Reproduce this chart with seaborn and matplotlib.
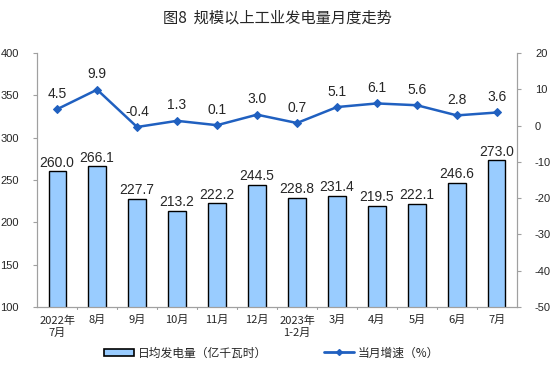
import seaborn as sns
import matplotlib.pyplot as plt
import pandas as pd
from matplotlib.patches import Patch
from matplotlib.lines import Line2D

# data
months = ["2022年\n7月", "8月", "9月", "10月", "11月", "12月", "2023年\n1-2月",
          "3月", "4月", "5月", "6月", "7月"]
daily_output = [260.0, 266.1, 227.7, 213.2, 222.2, 244.5, 228.8, 231.4, 219.5, 222.1, 246.6, 273.0]
growth = [4.5, 9.9, -0.4, 1.3, 0.1, 3.0, 0.7, 5.1, 6.1, 5.6, 2.8, 3.6]

df = pd.DataFrame({"month": months, "output": daily_output, "growth": growth, "pos": range(len(months))})

sns.set_style("white")
plt.rcParams['font.family'] = ['Noto Sans CJK SC', 'DejaVu Sans']
plt.rcParams['axes.unicode_minus'] = False

fig = plt.figure(figsize=(5.54, 3.87), dpi=100)
ax = fig.add_axes([0.067, 0.207, 0.866, 0.656])

bar_color = "#99CCFF"
line_color = "#2060C0"
gray = "#A0A0A0"
num_font = "Liberation Sans"

sns.barplot(data=df, x="pos", y="output", color=bar_color, edgecolor="black",
            linewidth=1.0, width=0.43, saturation=1, ax=ax)
ax.set_ylim(100, 400)
ax.set_xlim(-0.5, len(months) - 0.5)
ax.set_yticks(range(100, 401, 50))
ax.set_xticks(range(len(months)))
ax.set_xticklabels(months, fontsize=8, linespacing=1.3)
ax.set_xlabel("")
ax.set_ylabel("")
ax.tick_params(axis="x", length=0, pad=6)
ax.tick_params(axis="y", labelsize=8, length=3, color=gray, direction="out", left=True, pad=10)
for lab in ax.get_yticklabels():
    lab.set_family(num_font)
for v, p in zip(daily_output, df["pos"]):
    ax.text(p, v + 2, f"{v:.1f}", ha="center", va="bottom", fontsize=10, family=num_font)

# small category separator ticks on the bottom axis
for b in range(1, len(months)):
    ax.plot([b - 0.5, b - 0.5], [100, 97], color=gray, lw=0.8, clip_on=False)

ax2 = ax.twinx()
sns.lineplot(data=df, x="pos", y="growth", color=line_color, marker="D", markersize=4,
             markeredgecolor=line_color, linewidth=1.8, ax=ax2)
ax2.set_ylim(-50, 20)
ax2.set_yticks(range(-50, 21, 10))
ax2.set_ylabel("")
ax2.tick_params(axis="y", labelsize=8, length=3, color=gray, direction="out", right=True, pad=10)
for lab in ax2.get_yticklabels():
    lab.set_family(num_font)
for g, p in zip(growth, df["pos"]):
    ax2.text(p, g + 2.3, f"{g:.1f}", ha="center", va="bottom", fontsize=10, family=num_font)

for a in (ax, ax2):
    for side in ("left", "right", "bottom"):
        a.spines[side].set_color(gray)
        a.spines[side].set_linewidth(0.8)
    a.spines["top"].set_visible(False)

fig.text(0.5, 0.953, "图8  规模以上工业发电量月度走势", ha="center", va="center", fontsize=11)

# legend
handles = [Patch(facecolor=bar_color, edgecolor="black", linewidth=1.2),
           Line2D([0], [0], color=line_color, lw=2, marker="D", markersize=3)]
fig.legend(handles, ["日均发电量（亿千瓦时）", "当月增速（%）"], loc="center",
           bbox_to_anchor=(0.49, 0.088), ncol=2, frameon=False, fontsize=8.5,
           handlelength=2.6, handleheight=0.6, columnspacing=4.8, handletextpad=0.3)

fig.savefig("out.png", dpi=100)
